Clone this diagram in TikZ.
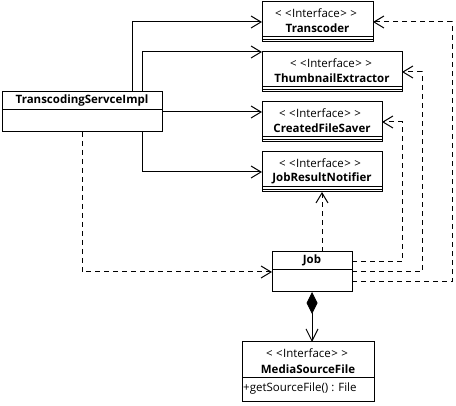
\documentclass[tikz,border=0pt]{standalone}
\usepackage{fontspec}
\setmainfont{Open Sans}
\usetikzlibrary{arrows.meta}
\newcommand{\stereo}{<\kern3.5pt<\kern0.5pt Interface\kern0.5pt>\kern3.5pt>}
\begin{document}
\begin{tikzpicture}[x=1pt,y=-1pt,
  box/.style={draw,line width=1pt,inner sep=0pt,outer sep=0pt,anchor=north west},
  div/.style={line width=0.9pt},
  txt/.style={inner sep=0pt,font=\fontsize{11.5}{13}\selectfont},
  bold/.style={inner sep=0pt,font=\fontsize{11.5}{13}\selectfont\bfseries},
  assoc/.style={line width=1pt,-{Straight Barb[length=10pt,width=12pt]}},
  dep/.style={assoc,dash pattern=on 5pt off 4pt},
  comp/.style={line width=1pt,{Diamond[length=22pt,width=11pt]}-{Straight Barb[length=12pt,width=12pt]}}
]
\useasboundingbox (0,0) rectangle (456,406);

% TranscodingServceImpl
\node[box,minimum width=160pt,minimum height=40pt] (tsi) at (2,92) {};
\draw[div] (2,109) -- (162,109);
\node[bold] (tsiname) at (82,100.5) {TranscodingServceImpl};

% Transcoder
\node[box,minimum width=111pt,minimum height=40pt] (trans) at (262,2) {};
\draw[div] (262,36.8) -- (373,36.8);
\draw[div] (262,39.5) -- (373,39.5);
\node[txt] (transst) at (316,13) {\stereo};
\node[bold] (transname) at (317.5,28.5) {Transcoder};

% ThumbnailExtractor
\node[box,minimum width=140pt,minimum height=40pt] (thumb) at (262,52) {};
\draw[div] (262,86.8) -- (402,86.8);
\draw[div] (262,89.5) -- (402,89.5);
\node[txt] (thumbst) at (331,63) {\stereo};
\node[bold] (thumbname) at (332,78.5) {ThumbnailExtractor};

% CreatedFileSaver
\node[box,minimum width=120pt,minimum height=40pt] (cfs) at (262,102) {};
\draw[div] (262,136.8) -- (382,136.8);
\draw[div] (262,139.5) -- (382,139.5);
\node[txt] (cfsst) at (320,113) {\stereo};
\node[bold] (cfsname) at (322,128.5) {CreatedFileSaver};

% JobResultNotifier
\node[box,minimum width=120pt,minimum height=40pt] (jrn) at (262,152) {};
\draw[div] (262,186.8) -- (382,186.8);
\draw[div] (262,189.5) -- (382,189.5);
\node[txt] (jrnst) at (320,163) {\stereo};
\node[bold] (jrnname) at (322,178.5) {JobResultNotifier};

% Job
\node[box,minimum width=80pt,minimum height=40pt] (job) at (272,252) {};
\draw[div] (272,269) -- (352,269);
\node[bold] (jobname) at (312,260.5) {Job};

% MediaSourceFile
\node[box,minimum width=132pt,minimum height=60pt] (msf) at (242,342) {};
\draw[div] (242,377) -- (374,377);
\node[txt] (msfst) at (307,353) {\stereo};
\node[bold] (msfname) at (308,369) {MediaSourceFile};
\node[txt,anchor=west] (msfop) at (243,389) {+getSourceFile() : File};

% connectors
\coordinate (t1) at (132,92);
\coordinate (t2) at (142,92);
\coordinate (t4) at (142,132);
\draw[assoc] (t1) |- (trans.west);
\draw[assoc] (t2) |- (thumb.north west);
\draw[assoc] (tsi.east) -- (tsi.east -| cfs.west);
\draw[assoc] (t4) |- (jrn.west);
\draw[dep] (tsi.south) |- (job.west);

\coordinate (j1) at (322,252);
\draw[dep] (j1) -- (jrn.south);

\coordinate (c1) at (402,122);
\coordinate (c2) at (422,72);
\coordinate (c3) at (452,22);
\coordinate (js1) at (352,262);
\coordinate (js3) at (352,282);
\draw[dep] (js1) -| (c1) -- (cfs.east);
\draw[dep] (job.east) -| (c2) -- (thumb.east);
\draw[dep] (js3) -| (c3) -- (trans.east);

\draw[comp] (job.south) -- (job.south |- msf.north);
\end{tikzpicture}
\end{document}
